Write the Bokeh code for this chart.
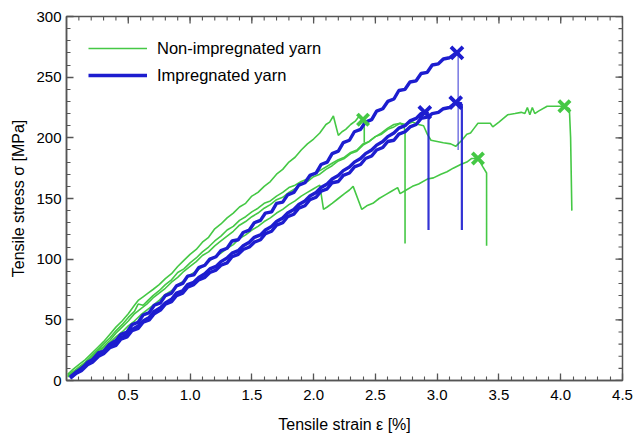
import math
from bokeh.plotting import figure
from bokeh.models import (Range1d, FixedTicker, NumeralTickFormatter,
                          Legend, LegendItem)
from bokeh.embed import file_html
from bokeh.resources import INLINE

# ---------------- data ----------------
# Non-impregnated yarn, specimen A
ga_x = [0.01,0.05,0.10,0.15,0.20,0.25,0.30,0.35,0.40,0.45,0.50,0.55,0.58,0.62,0.66,0.70,0.75,0.80,0.85,0.90,
        0.95,1.00,1.05,1.10,1.15,1.20,1.25,1.30,1.35,1.40,1.45,1.50,1.55,1.60,1.65,1.70,1.75,1.80,1.85,1.90,
        1.95,2.00,2.05,2.10,2.13,2.16,2.18,2.20,2.23,2.26,2.30,2.34,2.37,2.40,2.41,2.41]
ga_y = [5,9,13,17,22,27,32,38,44,49,55,62,66,69,72,75,79,84,88,94,
        99,104,108,114,118,125,129,134,138,143,146,152,155,160,164,170,174,180,184,190,
        195,199,204,211,213,218,210,202,205,207,211,214,218,215,208,196]
# Non-impregnated yarn, specimen B
gb_x = [0.01,0.05,0.10,0.15,0.20,0.25,0.30,0.35,0.40,0.45,0.50,0.55,0.58,0.62,0.66,0.70,0.75,0.80,0.85,0.90,
        0.95,1.00,1.05,1.10,1.15,1.20,1.25,1.30,1.35,1.40,1.45,1.50,1.55,1.60,1.65,1.70,1.75,1.80,1.85,1.90,
        1.95,2.00,2.05,2.10,2.15,2.20,2.25,2.30,2.35,2.40,2.45,2.50,2.55,2.60,2.65,2.70,2.73,2.74,2.74]
gb_y = [4,7,11,15,20,25,30,35,41,46,52,57,63,62,66,70,74,79,83,89,
        92,97,101,106,110,115,119,124,127,132,135,139,142,146,148,152,155,159,161,164,
        166,170,173,176,179,182,184,188,190,195,197,201,203,207,209,212,210,205,113]
# Non-impregnated yarn, specimen C
gc_x = [0.01,0.05,0.10,0.15,0.20,0.25,0.30,0.35,0.40,0.45,0.50,0.55,0.60,0.65,0.70,0.75,0.80,0.85,0.90,0.95,
        1.00,1.05,1.10,1.15,1.20,1.25,1.30,1.35,1.40,1.45,1.50,1.55,1.60,1.65,1.70,1.75,1.80,1.85,1.90,1.95,
        2.00,2.05,2.10,2.15,2.20,2.25,2.30,2.35,2.40,2.45,2.50,2.55,2.60,2.65,2.70,2.75,2.80,2.85,2.89,2.92,
        2.95,3.00,3.05,3.11,3.15,3.20,3.24,3.27,3.30,3.33,3.38,3.43,3.45,3.50,3.57,3.63,3.68,3.71,3.73,3.75,
        3.77,3.79,3.82,3.89,3.96,4.03,4.07,4.08,4.09]
gc_y = [3,6,10,14,19,24,28,33,39,44,49,55,59,63,68,72,76,81,85,90,
        94,98,103,106,111,115,119,123,128,131,135,138,142,145,149,151,155,158,162,164,
        168,170,174,177,181,183,187,189,194,197,201,204,208,211,212,211,213,211,210,203,
        198,197,196,195,193,198,203,204,208,212,212,212,209,213,219,220,221,220,225,219,
        225,220,222,226,226,226,224,200,140]
# Non-impregnated yarn, specimen D
gd_x = [0.01,0.05,0.10,0.15,0.20,0.25,0.30,0.35,0.40,0.45,0.50,0.55,0.60,0.65,0.70,0.75,0.80,0.85,0.90,0.95,
        1.00,1.05,1.10,1.15,1.20,1.25,1.30,1.35,1.40,1.45,1.50,1.55,1.60,1.65,1.70,1.75,1.80,1.85,1.90,1.95,
        2.00,2.05,2.08,2.11,2.15,2.20,2.25,2.29,2.32,2.39,2.43,2.48,2.53,2.58,2.63,2.68,2.70,2.75,2.80,2.85,
        2.92,2.97,3.03,3.08,3.13,3.19,3.24,3.28,3.33,3.37,3.40,3.40]
gd_y = [4,7,10,14,18,22,27,31,36,40,45,49,54,58,62,66,71,74,79,82,
        87,90,94,98,102,105,109,112,117,120,124,127,131,134,138,141,145,148,152,155,
        158,161,141,143,146,150,154,157,160,141,144,146,150,153,156,159,154,157,160,162,
        166,167,170,172,175,178,180,183,183,176,171,111]

# Impregnated yarn, specimen 1
b1_x = [0.03,0.08,0.12,0.17,0.21,0.26,0.30,0.35,0.40,0.44,0.49,0.53,0.58,0.62,0.67,0.71,0.76,0.80,0.85,0.89,
        0.94,0.98,1.03,1.07,1.12,1.16,1.21,1.25,1.30,1.34,1.39,1.43,1.48,1.52,1.57,1.61,1.66,1.70,1.75,1.79,
        1.84,1.88,1.93,1.97,2.02,2.06,2.11,2.15,2.20,2.24,2.29,2.33,2.38,2.42,2.47,2.51,2.56,2.60,2.65,2.69,
        2.74,2.78,2.83,2.87,2.92,2.96,3.01,3.05,3.10,3.14,3.16,3.17,3.17]
b1_y = [2,7,9,15,17,23,24,30,33,38,40,46,48,54,56,62,64,70,72,78,
        80,86,87,93,95,100,102,107,109,115,116,122,124,130,132,138,139,146,147,153,
        155,161,163,169,171,178,180,187,189,196,198,205,207,213,215,222,224,230,232,239,
        240,246,247,253,254,260,261,265,266,269,270,270,190]
# Impregnated yarn, specimen 2
b2_x = [0.03,0.08,0.12,0.17,0.21,0.26,0.30,0.35,0.40,0.44,0.49,0.53,0.58,0.62,0.67,0.71,0.76,0.80,0.85,0.89,
        0.94,0.98,1.03,1.07,1.12,1.16,1.21,1.25,1.30,1.34,1.39,1.43,1.48,1.52,1.57,1.61,1.66,1.70,1.75,1.79,
        1.84,1.88,1.93,1.97,2.02,2.06,2.11,2.15,2.20,2.24,2.29,2.33,2.38,2.42,2.47,2.51,2.56,2.60,2.65,2.69,
        2.74,2.78,2.83,2.87,2.92,2.96,3.01,3.05,3.10,3.15,3.20,3.20]
b2_y = [2,6,8,13,15,20,22,27,29,34,36,41,43,48,50,55,58,63,65,70,
        72,77,79,83,85,89,91,95,97,102,104,108,110,114,116,121,123,128,130,135,
        137,142,144,149,151,156,158,163,164,169,171,176,178,183,185,190,192,197,198,203,
        205,209,211,216,217,220,221,224,225,229,228,124]
# Impregnated yarn, specimen 3
b3_x = [0.03,0.08,0.12,0.17,0.21,0.26,0.30,0.35,0.40,0.44,0.49,0.53,0.58,0.62,0.67,0.71,0.76,0.80,0.85,0.89,
        0.94,0.98,1.03,1.07,1.12,1.16,1.21,1.25,1.30,1.34,1.39,1.43,1.48,1.52,1.57,1.61,1.66,1.70,1.75,1.79,
        1.84,1.88,1.93,1.97,2.02,2.06,2.11,2.15,2.20,2.24,2.29,2.33,2.38,2.42,2.47,2.51,2.56,2.60,2.65,2.69,
        2.74,2.78,2.83,2.87,2.90,2.93,2.93]
b3_y = [3,7,10,14,17,21,24,28,31,35,38,42,45,49,52,57,60,64,67,72,
        74,79,81,85,88,92,94,98,101,105,107,111,114,118,120,124,127,131,134,138,
        141,145,148,152,155,159,162,166,169,173,176,180,183,187,190,194,197,201,204,208,
        210,214,216,220,221,220,124]

# failure points (marked with crosses)
green_fail_x = [2.40, 3.33, 4.03]
green_fail_y = [215, 183, 226]
blue_fail_x = [3.16, 3.15, 2.90]
blue_fail_y = [270, 229, 221]

x_major = [0.5, 1.0, 1.5, 2.0, 2.5, 3.0, 3.5, 4.0, 4.5]
x_minor = [i / 10 for i in range(1, 45)]
y_major = [0, 50, 100, 150, 200, 250, 300]
y_minor = list(range(0, 301, 10))
x_min, x_max = 0, 4.5
y_min, y_max = 0, 300

labels = ["Non-impregnated yarn", "Impregnated yarn"]
x_label = "Tensile strain \u03b5 [%]"
y_label = "Tensile stress \u03c3 [MPa]"

GREEN = "#45c845"
BLUE = "#1d1dcf"
AX = "#555555"
FONT = "Liberation Sans"

# ---------------- figure ----------------
p = figure(width=633, height=436, output_backend="svg", toolbar_location=None,
           x_range=Range1d(x_min, x_max), y_range=Range1d(y_min, y_max),
           min_border_left=66, min_border_right=11, min_border_top=16, min_border_bottom=56,
           background_fill_color="white", border_fill_color="white")
p.xgrid.visible = False
p.ygrid.visible = False
p.outline_line_color = AX
p.outline_line_width = 1.5

# green curves
g_lines = []
for xs, ys in [(gd_x, gd_y), (gc_x, gc_y), (gb_x, gb_y), (ga_x, ga_y)]:
    g_lines.append(p.line(xs, ys, line_color=GREEN, line_width=1.6))

# blue curves: loading part thick, final drop thin
b_lines = []
for xs, ys, dw in [(b3_x, b3_y, 2.2), (b2_x, b2_y, 2.2), (b1_x, b1_y, 1.5)]:
    b_lines.append(p.line(xs[:-1], ys[:-1], line_color=BLUE, line_width=3.4))
    p.line(xs[-2:], ys[-2:], line_color=BLUE, line_width=dw, line_alpha=0.9 if dw > 2 else 0.6)

p.scatter(green_fail_x, green_fail_y, marker="x", size=16, line_color=GREEN, line_width=3.8)
p.scatter(blue_fail_x, blue_fail_y, marker="x", size=17, line_color=BLUE, line_width=3.8)

# mirrored inward ticks on the top and right edges
p.scatter(x_major, [y_max] * len(x_major), marker="dash", angle=math.pi / 2, size=14,
          line_color=AX, line_width=1.3)
p.scatter(x_minor, [y_max] * len(x_minor), marker="dash", angle=math.pi / 2, size=8,
          line_color=AX, line_width=1.1)
p.scatter([x_max] * len(y_major), y_major, marker="dash", size=14, line_color=AX, line_width=1.3)
p.scatter([x_max] * len(y_minor), y_minor, marker="dash", size=8, line_color=AX, line_width=1.1)

def style(ax):
    ax.axis_line_color = AX
    ax.axis_line_width = 1.5
    ax.major_tick_line_color = AX
    ax.minor_tick_line_color = AX
    ax.major_tick_line_width = 1.3
    ax.minor_tick_line_width = 1.1
    ax.major_tick_in = 7
    ax.major_tick_out = 0
    ax.minor_tick_in = 4
    ax.minor_tick_out = 0
    ax.major_label_text_font = FONT
    ax.major_label_text_font_size = "15px"
    ax.major_label_text_color = "black"
    ax.axis_label_text_font = FONT
    ax.axis_label_text_font_size = "16px"
    ax.axis_label_text_font_style = "normal"
    ax.axis_label_text_color = "black"

xa = p.xaxis[0]
xa.ticker = FixedTicker(ticks=x_major, minor_ticks=x_minor)
xa.formatter = NumeralTickFormatter(format="0.0")
xa.axis_label = x_label
style(xa)
xa.major_label_standoff = 9
xa.axis_label_standoff = 13

ya = p.yaxis[0]
ya.ticker = FixedTicker(ticks=y_major, minor_ticks=y_minor)
ya.axis_label = y_label
style(ya)
ya.major_label_standoff = 5
ya.axis_label_standoff = 6

legend = Legend(items=[LegendItem(label=labels[0], renderers=[g_lines[3]]),
                       LegendItem(label=labels[1], renderers=[b_lines[2]])],
                location="top_left")
legend.border_line_alpha = 0
legend.background_fill_alpha = 0
legend.margin = 10
legend.padding = 12
legend.spacing = 7
legend.glyph_width = 59
legend.glyph_height = 20
legend.label_standoff = 10
legend.label_text_font = FONT
legend.label_text_font_size = "16.5px"
legend.label_text_color = "black"
p.add_layout(legend, "center")

open("out.html", "w").write(file_html(p, INLINE))
